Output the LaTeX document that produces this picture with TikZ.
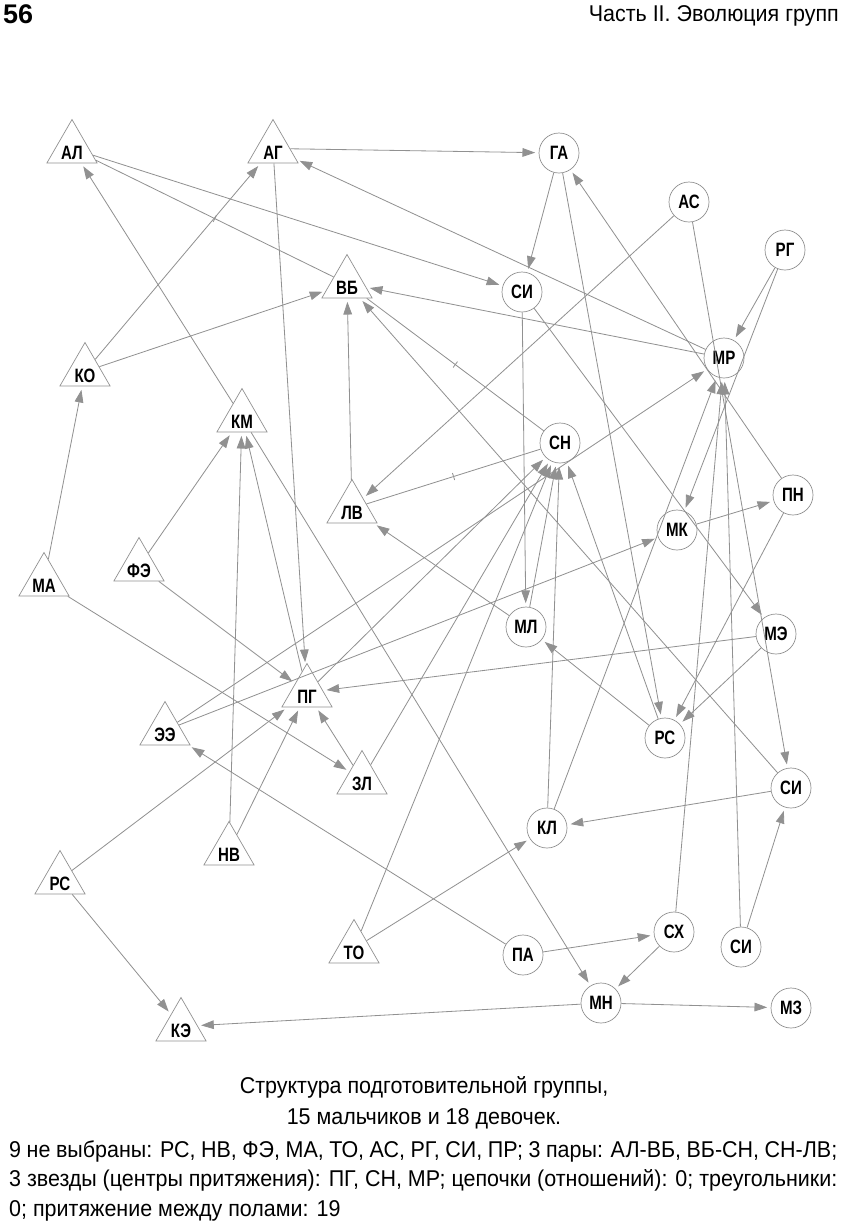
\documentclass[tikz,border=0pt]{standalone}
\usepackage{fontspec}
\setmainfont{Liberation Sans}[FakeStretch=0.94]
\newfontfamily\headfont{Liberation Sans}
\newfontfamily\lblfont{Liberation Sans}[FakeStretch=0.78]
\usetikzlibrary{shapes.geometric,arrows.meta}

\definecolor{edgegray}{RGB}{145,145,145}
\definecolor{nodegray}{RGB}{145,145,145}

\tikzset{
  boy/.style={regular polygon, regular polygon sides=3, draw=nodegray, line width=0.6pt,
    minimum size=1.74cm, inner sep=0pt,
    label={[lbl, yshift=-1.3mm]center:#1}},
  girl/.style={circle, draw=nodegray, line width=0.6pt, minimum size=1.2cm, inner sep=0pt,
    font=\lblfont\bfseries\fontsize{16.5}{18}\selectfont},
  lbl/.style={inner sep=0pt, font=\lblfont\bfseries\fontsize{16.5}{18}\selectfont},
  link/.style={draw=edgegray, line width=0.7pt, -{Triangle[length=3.8mm,width=2.6mm]}, shorten >=3pt},
  pair/.style={draw=edgegray, line width=0.7pt},
  pairmark/.style={sloped, draw=edgegray, line width=0.7pt, inner sep=0pt, minimum width=0pt, minimum height=2.2mm}
}

\begin{document}
\begin{tikzpicture}[x=0.03cm,y=-0.03cm]
        \useasboundingbox (0,0) rectangle (848,1224);
        \node[anchor=west, inner sep=0pt, font=\headfont\bfseries\fontsize{23}{24}\selectfont] (page) at (3,14) {56};
        \node[anchor=east, inner sep=0pt, font=\fontsize{19.5}{22}\selectfont] (chap) at (839,16) {Часть II. Эволюция групп};

        % boys
        \node[boy=АЛ] (al) at (72,148.5) {};
        \node[boy=АГ] (ag) at (273,148.5) {};
        \node[boy=ВБ] (vb) at (347,283.5) {};
        \node[boy=КО] (ko) at (85,371.5) {};
        \node[boy=КМ] (km) at (242,417.5) {};
        \node[boy=ЛВ] (lv) at (352,508.5) {};
        \node[boy=ФЭ] (fe) at (139,566.5) {};
        \node[boy=МА] (ma) at (44,581.5) {};
        \node[boy=ПГ] (pg) at (307,692.5) {};
        \node[boy=ЭЭ] (ee) at (165,730.5) {};
        \node[boy=ЗЛ] (zl) at (362,779.5) {};
        \node[boy=НВ] (nv) at (229,850.5) {};
        \node[boy=РС] (rsb) at (60,879.5) {};
        \node[boy=ТО] (tov) at (354,948.5) {};
        \node[boy=КЭ] (ke) at (181,1026.5) {};

        % girls
        \node[girl] (ga) at (559,153) {ГА};
        \node[girl] (as) at (689,202) {АС};
        \node[girl] (rg) at (785,250) {РГ};
        \node[girl] (sit) at (522,292) {СИ};
        \node[girl] (mr) at (724,358) {МР};
        \node[girl] (sn) at (560,443) {СН};
        \node[girl] (mk) at (677,530) {МК};
        \node[girl] (pn) at (793,495) {ПН};
        \node[girl] (ml) at (526,627) {МЛ};
        \node[girl] (me) at (776,634) {МЭ};
        \node[girl] (rsg) at (665,738) {РС};
        \node[girl] (sir) at (791,788) {СИ};
        \node[girl] (kl) at (547,828) {КЛ};
        \node[girl] (sx) at (674,932) {СХ};
        \node[girl] (sib) at (741,947) {СИ};
        \node[girl] (pa) at (523,955) {ПА};
        \node[girl] (mn) at (601,1003) {МН};
        \node[girl] (mz) at (791,1008) {МЗ};

        % choices
        \draw[link] (ag) -- (ga);
        \draw[link] (al) -- (sit);
        \draw[link] (mr) -- (ag);
        \draw[link] (mr) -- (vb);
        \draw[link] (as) -- (lv);
        \draw[link] (as) -- (sir);
        \draw[link] (ga) -- (sit);
        \draw[link] (ga) -- (rsg);
        \draw[link] (pn) -- (ga);
        \draw[link] (rg) -- (mr);
        \draw[link] (rg) -- (mk);
        \draw[link] (sit) -- (ml);
        \draw[link] (sit) -- (me);
        \draw[link] (ee) -- (mr);
        \draw[link] (ee) -- (mk);
        \draw[link] (kl) -- (mr);
        \draw[link] (sx) -- (mr);
        \draw[link] (sib) -- (mr);
        \draw[link] (pg) -- (sn);
        \draw[link] (zl) -- (sn);
        \draw[link] (tov) -- (sn);
        \draw[link] (ml) -- (sn);
        \draw[link] (kl) -- (sn);
        \draw[link] (rsg) -- (sn);
        \draw[link] (rsg) -- (ml);
        \draw[link] (pn) -- (rsg);
        \draw[link] (me) -- (rsg);
        \draw[link] (mk) -- (pn);
        \draw[link] (me) -- (pg);
        \draw[link] (sir) -- (vb);
        \draw[link] (km) -- (al);
        \draw[link] (km) -- (mn);
        \draw[link] (fe) -- (km);
        \draw[link] (nv) -- (km);
        \draw[link] (pg) -- (km);
        \draw[link] (ag) -- (pg);
        \draw[link] (fe) -- (pg);
        \draw[link] (ma) -- (ko);
        \draw[link] (ma) -- (zl);
        \draw[link] (ko) -- (ag);
        \draw[link] (ko) -- (vb);
        \draw[link] (lv) -- (vb);
        \draw[link] (ml) -- (lv);
        \draw[link] (zl) -- (pg);
        \draw[link] (nv) -- (pg);
        \draw[link] (rsb) -- (pg);
        \draw[link] (rsb) -- (ke);
        \draw[link] (pa) -- (ee);
        \draw[link] (pa) -- (sx);
        \draw[link] (sx) -- (mn);
        \draw[link] (mn) -- (ke);
        \draw[link] (mn) -- (mz);
        \draw[link] (tov) -- (kl);
        \draw[link] (sir) -- (kl);
        \draw[link] (sib) -- (sir);

        % pairs
        \draw[pair] (al) -- (vb) node[pairmark, midway] {};
        \draw[pair] (vb) -- (sn) node[pairmark, midway] {};
        \draw[pair] (lv) -- (sn) node[pairmark, midway] {};

        \node[align=center, inner sep=0pt, font=\fontsize{19.5}{26.5}\selectfont] (title) at (424,1103) {Структура подготовительной группы,\\15 мальчиков и 18 девочек.};
        \node[anchor=north west, inner sep=0pt, text width=24.84cm, align=justify, font=\fontsize{19.5}{25.2}\selectfont] (notes) at (9,1140) {9 не выбраны: РС, НВ, ФЭ, МА, ТО, АС, РГ, СИ, ПР; 3 пары: АЛ-ВБ, ВБ-СН, СН-ЛВ;\linebreak 3 звезды (центры притяжения): ПГ, СН, МР; цепочки (отношений): 0; треугольники:\linebreak 0; притяжение между полами: 19};
\end{tikzpicture}
\end{document}
